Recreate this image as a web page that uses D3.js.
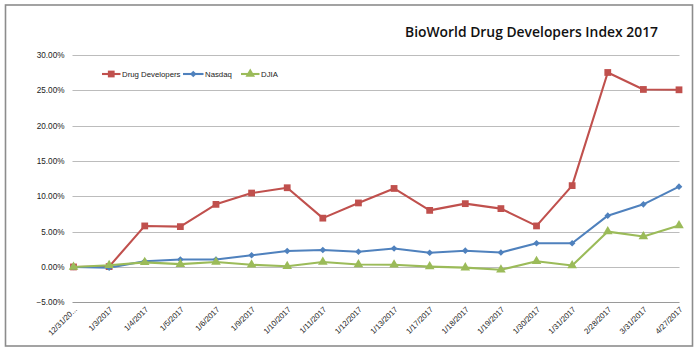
<!DOCTYPE html>
<html>
<head>
<meta charset="utf-8">
<script src="https://cdn.jsdelivr.net/npm/d3@7"></script>
<style>
  body { margin: 0; background: #fff; }
  svg { display: block; }
  .tick-label { font-family: "Liberation Sans", Arial, sans-serif; font-size: 8.2px; fill: #222; }
  .x-label { font-family: "Liberation Sans", Arial, sans-serif; font-size: 7.8px; fill: #222; }
  .legend-label { font-family: "Liberation Sans", Arial, sans-serif; font-size: 7.8px; fill: #222; }
</style>
</head>
<body>
<svg id="chart" width="700" height="352"></svg>
<script>
// categories (x axis)
const dates = ['12/31/20...', '1/3/2017', '1/4/2017', '1/5/2017', '1/6/2017', '1/9/2017',
  '1/10/2017', '1/11/2017', '1/12/2017', '1/13/2017', '1/17/2017', '1/18/2017',
  '1/19/2017', '1/30/2017', '1/31/2017', '2/28/2017', '3/31/2017', '4/27/2017']

// series values, percent
const drugDevelopers = [0, 0.05, 5.8, 5.7, 8.85, 10.45, 11.2, 6.9, 9.05, 11.1, 8.0, 8.95,
  8.25, 5.8, 11.5, 27.5, 25.1, 25.05]
const nasdaq = [0, -0.1, 0.8, 1.05, 1.05, 1.65, 2.25, 2.4, 2.15, 2.6, 2.0, 2.3,
  2.05, 3.35, 3.35, 7.25, 8.85, 11.35]
const djia = [0, 0.25, 0.65, 0.4, 0.7, 0.3, 0.1, 0.7, 0.35, 0.3, 0.05, -0.1,
  -0.4, 0.8, 0.2, 5.0, 4.3, 5.85]

const yTicks = [-5, 0, 5, 10, 15, 20, 25, 30]

const series = [
  {name: 'Drug Developers', values: drugDevelopers, color: '#c0504d', marker: 'square'},
  {name: 'Nasdaq', values: nasdaq, color: '#4f81bd', marker: 'diamond'},
  {name: 'DJIA', values: djia, color: '#9bbb59', marker: 'triangle'}
]

const svg = d3.select('#chart')

// outer frame
svg.append('rect')
  .attr('x', 5.5).attr('y', 5)
  .attr('width', 687).attr('height', 341)
  .attr('fill', '#fff')
  .attr('stroke', '#8c8c8c')
  .attr('stroke-width', 1.6)

const x = d3.scalePoint().domain(dates).range([73.5, 679])
const y = d3.scaleLinear().domain([-5, 30]).range([302.3, 54.8])

// gridlines
svg.append('g').selectAll('line')
  .data(yTicks)
  .enter()
  .append('line')
  .attr('x1', 72.5).attr('x2', 679.5)
  .attr('y1', (d) => Math.round(y(d)) + 0.5)
  .attr('y2', (d) => Math.round(y(d)) + 0.5)
  .attr('stroke', (d) => d === -5 ? '#9a9a9a' : '#bcbcbc')
  .attr('stroke-width', 1.2)

// y axis labels
svg.append('g').selectAll('text')
  .data(yTicks)
  .enter()
  .append('text')
  .attr('class', 'tick-label')
  .attr('x', 64.5)
  .attr('y', (d) => y(d) + 3)
  .attr('text-anchor', 'end')
  .text((d) => d3.format('.2f')(d) + '%')

// x axis labels, rotated
svg.append('g').selectAll('text')
  .data(dates)
  .enter()
  .append('text')
  .attr('class', 'x-label')
  .attr('text-anchor', 'end')
  .attr('transform', (d) => `translate(${x(d) + 4},${310}) rotate(-45)`)
  .text((d) => d)

// markers: square, diamond (rotated square), triangle
function marker (type) {
  if (type === 'square') return {d: d3.symbol().type(d3.symbolSquare).size(46)(), rot: 0}
  if (type === 'diamond') return {d: d3.symbol().type(d3.symbolSquare).size(22)(), rot: 45}
  return {d: d3.symbol().type(d3.symbolTriangle).size(40)(), rot: 0}
}

const line = d3.line()
  .x((d, i) => x(dates[i]))
  .y((d) => y(d))

series.forEach((s) => {
  let g = svg.append('g')
  let m = marker(s.marker)
  g.append('path')
    .datum(s.values)
    .attr('d', line)
    .attr('fill', 'none')
    .attr('stroke', s.color)
    .attr('stroke-width', 2.1)
    .attr('stroke-linejoin', 'round')
  g.selectAll('path.pt')
    .data(s.values)
    .enter()
    .append('path')
    .attr('class', 'pt')
    .attr('d', m.d)
    .attr('transform', (d, i) => `translate(${x(dates[i])},${y(d)}) rotate(${m.rot})`)
    .attr('fill', s.color)
})

// legend
const legendItems = [
  {s: series[0], x0: 102, tx: 122},
  {s: series[1], x0: 183, tx: 205},
  {s: series[2], x0: 241, tx: 261}
]
const ly = 74
legendItems.forEach((it) => {
  let g = svg.append('g')
  let m = marker(it.s.marker)
  g.append('line')
    .attr('x1', it.x0).attr('x2', it.tx - 1.5)
    .attr('y1', ly).attr('y2', ly)
    .attr('stroke', it.s.color)
    .attr('stroke-width', 2.1)
  g.append('path')
    .attr('d', m.d)
    .attr('transform', `translate(${(it.x0 + it.tx - 1.5) / 2},${ly}) rotate(${m.rot})`)
    .attr('fill', it.s.color)
  g.append('text')
    .attr('class', 'legend-label')
    .attr('x', it.tx)
    .attr('y', ly + 3)
    .text(it.s.name)
})

// title
svg.append('text')
  .attr('x', 405)
  .attr('y', 37)
  .attr('textLength', 253)
  .attr('lengthAdjust', 'spacingAndGlyphs')
  .style('font-family', '"Open Sans", "Liberation Sans", sans-serif')
  .style('font-size', '15px')
  .style('font-weight', 600)
  .style('fill', '#111')
  .text('BioWorld Drug Developers Index 2017')
</script>
</body>
</html>
